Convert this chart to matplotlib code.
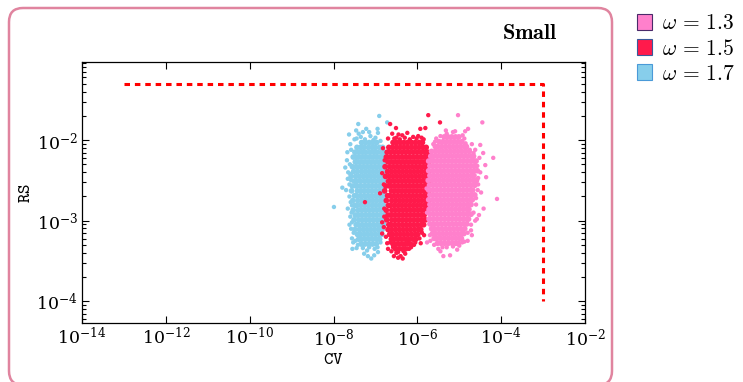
import numpy as np
import matplotlib.pyplot as plt
from matplotlib.patches import FancyBboxPatch, Patch
from matplotlib.transforms import IdentityTransform
from matplotlib.ticker import NullLocator, NullFormatter

plt.rcParams['mathtext.fontset'] = 'cm'
plt.rcParams['font.family'] = 'serif'
plt.rcParams['font.serif'] = ['DejaVu Serif']

# values are log10(CV), log10(RS)
# dense part of each cloud, one row per RS level
blue_core = [
    (-2.03, [-7.33, -7.24, -7.15, -7.06, -6.97]),
    (-2.09, [-7.44, -7.35, -7.27, -7.17, -7.08, -7.00, -6.90, -6.83]),
    (-2.15, [-7.49, -7.40, -7.31, -7.23, -7.13, -7.04, -6.96, -6.86, -6.79]),
    (-2.21, [-7.53, -7.45, -7.36, -7.27, -7.18, -7.09, -7.00, -6.91, -6.82]),
    (-2.27, [-7.48, -7.41, -7.32, -7.23, -7.14, -7.05, -6.96, -6.87, -6.78]),
    (-2.33, [-7.55, -7.46, -7.37, -7.28, -7.19, -7.10, -7.01, -6.92, -6.83, -6.76]),
    (-2.39, [-7.52, -7.43, -7.33, -7.24, -7.15, -7.06, -6.97, -6.88, -6.79]),
    (-2.45, [-7.58, -7.47, -7.38, -7.29, -7.20, -7.11, -7.02, -6.93, -6.84, -6.76]),
    (-2.51, [-7.50, -7.44, -7.35, -7.25, -7.16, -7.07, -6.98, -6.89, -6.80]),
    (-2.57, [-7.55, -7.46, -7.37, -7.28, -7.19, -7.10, -7.01, -6.92, -6.83, -6.76]),
    (-2.63, [-7.57, -7.43, -7.34, -7.25, -7.16, -7.07, -6.98, -6.89, -6.80]),
    (-2.69, [-7.50, -7.45, -7.36, -7.27, -7.18, -7.09, -7.00, -6.91, -6.82, -6.76]),
    (-2.75, [-7.54, -7.42, -7.33, -7.24, -7.15, -7.06, -6.97, -6.88, -6.79]),
    (-2.81, [-7.49, -7.44, -7.35, -7.26, -7.17, -7.08, -6.99, -6.90, -6.81]),
    (-2.87, [-7.53, -7.41, -7.32, -7.23, -7.14, -7.05, -6.96, -6.87, -6.79]),
    (-2.93, [-7.48, -7.43, -7.34, -7.25, -7.16, -7.07, -6.98, -6.89, -6.80]),
    (-2.99, [-7.51, -7.40, -7.31, -7.22, -7.13, -7.04, -6.95, -6.86, -6.79]),
    (-3.05, [-7.46, -7.41, -7.32, -7.23, -7.14, -7.05, -6.96, -6.87, -6.80]),
    (-3.11, [-7.49, -7.38, -7.29, -7.20, -7.11, -7.02, -6.93, -6.84]),
    (-3.17, [-7.43, -7.36, -7.27, -7.18, -7.09, -7.00, -6.91, -6.85]),
    (-3.23, [-7.40, -7.33, -7.24, -7.15, -7.06, -6.97, -6.90]),
    (-3.29, [-7.34, -7.25, -7.16, -7.07, -6.98]),
]
blue_loose = [
    (-6.91, -1.70), (-7.41, -1.80), (-7.63, -1.93), (-7.46, -1.88), (-6.72, -1.78),
    (-6.94, -1.91), (-7.72, -2.34), (-7.79, -2.59), (-7.99, -2.83), (-7.56, -2.81),
    (-7.56, -3.22), (-7.53, -3.27), (-7.27, -3.41), (-7.03, -3.43), (-6.94, -3.39),
    (-7.65, -2.40), (-7.60, -2.05), (-7.58, -2.50), (-7.62, -2.70), (-7.60, -2.95),
    (-7.55, -3.35), (-7.35, -1.96), (-7.12, -1.95), (-7.00, -1.97), (-6.95, -3.33),
    (-7.20, -3.37), (-7.45, -3.34), (-7.68, -2.25), (-7.66, -2.85), (-7.58, -3.10),
    (-7.30, -1.90), (-7.70, -2.62), (-7.62, -3.05), (-7.10, -3.47), (-7.22, -1.86),
    (-7.50, -1.99), (-7.67, -2.15), (-7.18, -3.44),
    (-7.45, -1.98), (-7.25, -1.99), (-7.05, -2.00), (-6.88, -2.01), (-7.58, -2.12),
    (-7.61, -2.30), (-7.60, -2.42), (-7.62, -2.55), (-7.59, -2.77), (-7.57, -2.90),
    (-7.56, -3.02), (-7.52, -3.15), (-7.48, -3.25), (-7.42, -3.30), (-7.30, -3.34),
    (-7.15, -3.33), (-7.02, -3.35), (-6.88, -3.27), (-7.40, -1.92), (-6.95, -1.86),
    (-7.15, -1.90), (-7.66, -2.48),
]

red_core = [
    (-2.03, [-6.58, -6.50, -6.41, -6.32, -6.23, -6.14, -6.05, -5.96, -5.88]),
    (-2.09, [-6.68, -6.59, -6.50, -6.41, -6.32, -6.23, -6.14, -6.05, -5.96, -5.87, -5.79]),
    (-2.15, [-6.72, -6.63, -6.54, -6.45, -6.36, -6.27, -6.18, -6.09, -6.00, -5.91, -5.82, -5.75]),
    (-2.21, [-6.74, -6.65, -6.56, -6.47, -6.38, -6.29, -6.20, -6.11, -6.02, -5.93, -5.84, -5.76]),
    (-2.27, [-6.70, -6.61, -6.52, -6.43, -6.34, -6.25, -6.16, -6.07, -5.98, -5.89, -5.80, -5.73]),
    (-2.33, [-6.77, -6.66, -6.57, -6.48, -6.39, -6.30, -6.21, -6.12, -6.03, -5.94, -5.85, -5.77]),
    (-2.39, [-6.71, -6.62, -6.53, -6.44, -6.35, -6.26, -6.17, -6.08, -5.99, -5.90, -5.81, -5.73]),
    (-2.45, [-6.76, -6.67, -6.58, -6.49, -6.40, -6.31, -6.22, -6.13, -6.04, -5.95, -5.86, -5.77]),
    (-2.51, [-6.69, -6.63, -6.54, -6.45, -6.36, -6.27, -6.18, -6.09, -6.00, -5.91, -5.82, -5.74]),
    (-2.57, [-6.75, -6.66, -6.57, -6.48, -6.39, -6.30, -6.21, -6.12, -6.03, -5.94, -5.85, -5.77]),
    (-2.63, [-6.78, -6.62, -6.53, -6.44, -6.35, -6.26, -6.17, -6.08, -5.99, -5.90, -5.81, -5.73]),
    (-2.69, [-6.71, -6.65, -6.56, -6.47, -6.38, -6.29, -6.20, -6.11, -6.02, -5.93, -5.84, -5.76]),
    (-2.75, [-6.74, -6.61, -6.52, -6.43, -6.34, -6.25, -6.16, -6.07, -5.98, -5.89, -5.80, -5.74]),
    (-2.81, [-6.69, -6.64, -6.55, -6.46, -6.37, -6.28, -6.19, -6.10, -6.01, -5.92, -5.83, -5.76]),
    (-2.87, [-6.74, -6.61, -6.52, -6.43, -6.34, -6.25, -6.16, -6.07, -5.98, -5.89, -5.80]),
    (-2.93, [-6.70, -6.64, -6.55, -6.46, -6.37, -6.28, -6.19, -6.10, -6.01, -5.92, -5.84]),
    (-2.99, [-6.73, -6.61, -6.52, -6.43, -6.34, -6.25, -6.16, -6.07, -5.98, -5.89, -5.81]),
    (-3.05, [-6.68, -6.63, -6.54, -6.45, -6.36, -6.27, -6.18, -6.09, -6.00, -5.91, -5.85]),
    (-3.11, [-6.70, -6.61, -6.52, -6.43, -6.34, -6.25, -6.16, -6.07, -5.98, -5.92]),
    (-3.17, [-6.66, -6.59, -6.50, -6.41, -6.32, -6.23, -6.14, -6.05, -5.99]),
    (-3.23, [-6.62, -6.55, -6.46, -6.37, -6.28, -6.19, -6.10, -6.04]),
    (-3.29, [-6.58, -6.50, -6.41, -6.32, -6.23, -6.16]),
    (-3.35, [-6.52, -6.44, -6.35, -6.28]),
]
red_loose = [
    (-5.74, -1.69), (-5.46, -1.78), (-6.65, -1.80), (-6.51, -1.85), (-5.93, -1.86),
    (-5.81, -1.85), (-6.36, -1.94), (-6.24, -1.91), (-6.84, -2.41), (-6.89, -2.66),
    (-6.84, -3.02), (-6.84, -3.16), (-6.65, -3.27), (-6.58, -3.33), (-6.46, -3.39),
    (-6.46, -3.46), (-6.29, -3.41), (-6.22, -3.27), (-6.05, -3.27), (-5.89, -3.15),
    (-7.25, -2.77), (-6.78, -2.25), (-6.80, -2.55), (-6.79, -2.85), (-6.50, -1.97),
    (-6.10, -1.96), (-5.98, -1.95), (-6.70, -3.35), (-6.82, -2.10), (-6.40, -3.44),
    (-6.15, -3.33), (-5.95, -3.22), (-6.60, -1.92), (-5.85, -1.99),
    (-6.55, -1.98), (-6.42, -1.99), (-6.30, -1.97), (-6.18, -1.99), (-6.02, -1.98),
    (-5.90, -1.97), (-6.70, -1.98), (-6.45, -1.93), (-6.75, -3.20), (-6.72, -3.28),
    (-6.62, -3.38), (-6.50, -3.40), (-6.33, -3.38), (-6.20, -3.35), (-6.08, -3.30),
    (-5.92, -3.28), (-5.84, -3.18), (-6.79, -2.95), (-6.80, -3.08), (-6.35, -3.47),
    (-6.56, -3.44),
]

pink_core = [
    (-1.96, [-5.36, -5.27, -5.18, -5.09, -5.01]),
    (-2.02, [-5.48, -5.39, -5.30, -5.21, -5.12, -5.03, -4.94]),
    (-2.08, [-5.57, -5.51, -5.42, -5.33, -5.24, -5.15, -5.06, -4.97, -4.88, -4.83]),
    (-2.14, [-5.66, -5.57, -5.48, -5.39, -5.30, -5.21, -5.12, -5.03, -4.94, -4.85, -4.76]),
    (-2.20, [-5.68, -5.61, -5.52, -5.43, -5.34, -5.25, -5.16, -5.07, -4.98, -4.89, -4.80, -4.71, -4.66]),
    (-2.26, [-5.73, -5.64, -5.55, -5.46, -5.37, -5.28, -5.19, -5.10, -5.01, -4.92, -4.83, -4.74, -4.65, -4.60]),
    (-2.32, [-5.70, -5.61, -5.52, -5.43, -5.34, -5.25, -5.16, -5.07, -4.98, -4.89, -4.80, -4.71, -4.62]),
    (-2.38, [-5.73, -5.64, -5.55, -5.46, -5.37, -5.28, -5.19, -5.10, -5.01, -4.92, -4.83, -4.74, -4.65, -4.57]),
    (-2.44, [-5.70, -5.61, -5.52, -5.43, -5.34, -5.25, -5.16, -5.07, -4.98, -4.89, -4.80, -4.71, -4.65]),
    (-2.50, [-5.74, -5.65, -5.56, -5.47, -5.38, -5.29, -5.20, -5.11, -5.02, -4.93, -4.84, -4.75, -4.66, -4.59]),
    (-2.56, [-5.71, -5.62, -5.53, -5.44, -5.35, -5.26, -5.17, -5.08, -4.99, -4.90, -4.81, -4.72, -4.63]),
    (-2.62, [-5.73, -5.64, -5.55, -5.46, -5.37, -5.28, -5.19, -5.10, -5.01, -4.92, -4.83, -4.74, -4.68]),
    (-2.68, [-5.70, -5.61, -5.52, -5.43, -5.34, -5.25, -5.16, -5.07, -4.98, -4.89, -4.80, -4.71, -4.63]),
    (-2.74, [-5.73, -5.64, -5.55, -5.46, -5.37, -5.28, -5.19, -5.10, -5.01, -4.92, -4.83, -4.74, -4.69]),
    (-2.80, [-5.70, -5.61, -5.52, -5.43, -5.34, -5.25, -5.16, -5.07, -4.98, -4.89, -4.80, -4.72]),
    (-2.86, [-5.72, -5.63, -5.54, -5.45, -5.36, -5.27, -5.18, -5.09, -5.00, -4.91, -4.82, -4.77]),
    (-2.92, [-5.70, -5.61, -5.52, -5.43, -5.34, -5.25, -5.16, -5.07, -4.98, -4.89, -4.80, -4.72]),
    (-2.98, [-5.72, -5.63, -5.54, -5.45, -5.36, -5.27, -5.18, -5.09, -5.00, -4.91, -4.82, -4.78]),
    (-3.04, [-5.70, -5.61, -5.52, -5.43, -5.34, -5.25, -5.16, -5.07, -4.98, -4.89, -4.82]),
    (-3.10, [-5.66, -5.59, -5.50, -5.41, -5.32, -5.23, -5.14, -5.05, -4.96, -4.87]),
    (-3.16, [-5.64, -5.57, -5.48, -5.39, -5.30, -5.21, -5.12, -5.03, -4.94, -4.89]),
    (-3.22, [-5.60, -5.53, -5.44, -5.35, -5.26, -5.17, -5.08, -4.99, -4.95]),
    (-3.28, [-5.52, -5.44, -5.35, -5.26, -5.17, -5.08, -5.02]),
]
pink_loose = [
    (-5.03, -1.69), (-4.45, -1.78), (-4.79, -1.86), (-4.86, -1.89), (-4.19, -2.22),
    (-4.43, -2.16), (-4.36, -2.46), (-4.10, -2.73), (-4.53, -2.93), (-4.72, -3.12),
    (-4.93, -3.27), (-5.22, -3.43), (-5.38, -3.44), (-5.77, -3.27), (-5.69, -3.25),
    (-4.50, -2.06), (-4.38, -2.31), (-4.55, -2.55), (-4.50, -2.40), (-4.48, -2.65),
    (-4.60, -2.80), (-4.62, -3.00), (-4.70, -2.05), (-4.62, -2.12), (-5.55, -1.98),
    (-5.62, -2.05), (-4.88, -1.98), (-4.80, -3.25), (-5.05, -3.36), (-5.30, -3.33),
    (-5.50, -3.35), (-4.58, -2.98), (-4.42, -2.85), (-5.15, -1.90), (-5.30, -1.92),
    (-4.70, -3.18), (-5.45, -3.38), (-4.52, -2.22),
    (-5.32, -1.88), (-5.10, -1.89), (-5.45, -1.95), (-4.92, -1.94), (-5.58, -2.02),
    (-4.85, -2.04), (-4.75, -2.12), (-4.66, -2.16), (-4.57, -2.32), (-4.55, -2.47),
    (-4.56, -2.62), (-4.60, -2.72), (-4.66, -2.90), (-4.72, -3.05), (-4.80, -3.15),
    (-4.88, -3.26), (-5.00, -3.31), (-5.15, -3.32), (-5.40, -3.33), (-5.60, -3.30),
    (-5.70, -3.18), (-5.78, -2.60), (-5.77, -2.90),
]

labels = [r'$\omega\,=\,1.3$', r'$\omega\,=\,1.5$', r'$\omega\,=\,1.7$']
colors = ['#ff80cc', '#ff1a4b', '#87ceeb']
edges = ['#4a2a6a', '#3a5a9a', '#4a9ad8']

# stopping box drawn as dashed red line
bound_cv = [1e-13, 1e-3, 1e-3]
bound_rs = [0.05, 0.05, 1e-4]


def unpack(pts):
    lx = [p[0] for p in pts]
    ly = [p[1] for p in pts]
    return 10.0 ** np.array(lx), 10.0 ** np.array(ly)


def rows_to_pts(rows):
    return [(x, y) for y, row in rows for x in row]


fig = plt.figure(figsize=(7.43, 3.82), dpi=100)
ax = fig.add_axes([0.1104, 0.1545, 0.677, 0.683])

groups = [(blue_core, blue_loose, colors[2]),
          (red_core, red_loose, colors[1]),
          (pink_core, pink_loose, colors[0])]
for core, loose, c in groups:
    x, y = unpack(rows_to_pts(core))
    ax.scatter(x, y, s=17, color=c, edgecolors='none', zorder=2)
    x, y = unpack(loose)
    ax.scatter(x, y, s=10, color=c, edgecolors='none', zorder=2)

ax.plot(bound_cv, bound_rs, color='red', lw=2.2, dashes=(1.8, 1.6), zorder=3)

ax.set_xscale('log')
ax.set_yscale('log')
ax.set_xlim(1e-14, 1e-2)
ax.set_ylim(10 ** -4.27, 10 ** -1.031)
ax.set_xticks([1e-14, 1e-12, 1e-10, 1e-8, 1e-6, 1e-4, 1e-2])
ax.xaxis.set_minor_locator(NullLocator())
ax.yaxis.set_minor_formatter(NullFormatter())
ax.tick_params(which='both', direction='in', top=True, right=True, labelsize=12.5, width=0.8)
ax.tick_params(which='major', length=5, pad=3)
ax.tick_params(which='minor', length=3)
for s in ax.spines.values():
    s.set_linewidth(0.9)

ax.set_xlabel(r'$\mathtt{CV}$', fontsize=13, labelpad=1)
ax.set_ylabel(r'$\mathtt{RS}$', fontsize=13, labelpad=1.5)

fig.text(530 / 743, 1 - 33 / 382, r'$\mathbf{Small}$', fontsize=16, ha='center', va='center')

handles = [Patch(facecolor=c, edgecolor=e, lw=0.8) for c, e in zip(colors, edges)]
fig.legend(handles, labels, loc='upper left', bbox_to_anchor=(0.831, 1.018), frameon=False,
           fontsize=15.5, handlelength=0.72, handleheight=0.72, handletextpad=0.45, labelspacing=0.14)

box = FancyBboxPatch((9, -3), 603, 377, boxstyle='round,pad=0,rounding_size=14',
                     transform=IdentityTransform(), facecolor='none', edgecolor='#e0849f', lw=1.8)
fig.patches.append(box)

fig.savefig('out.png', dpi=100)
